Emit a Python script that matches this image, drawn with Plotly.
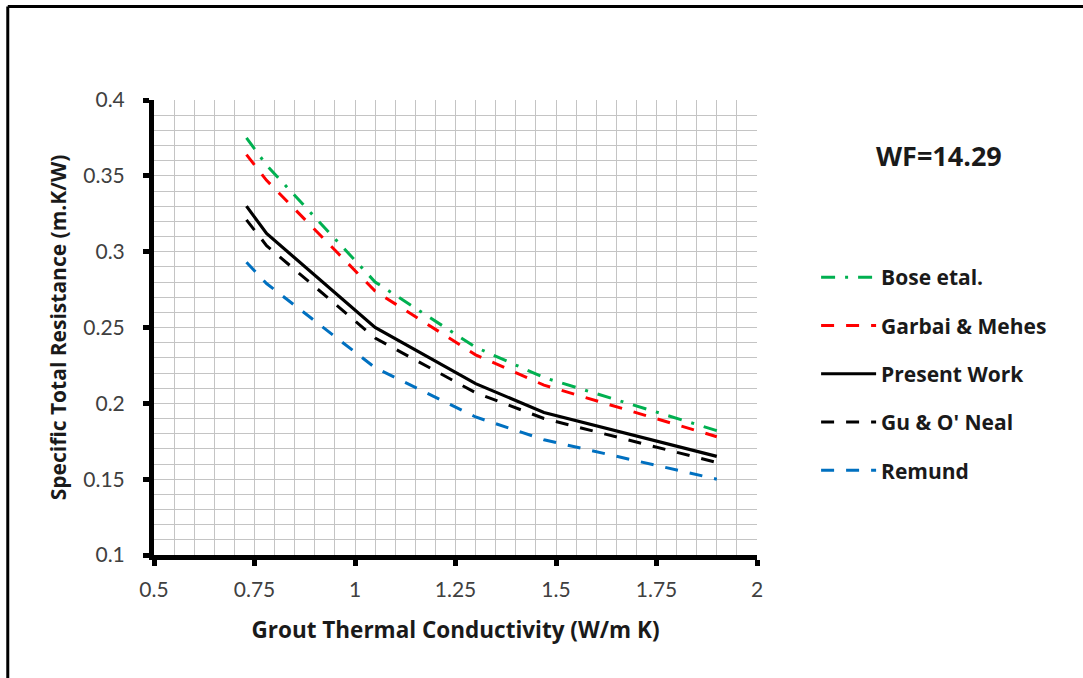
import plotly.graph_objects as go

# Grout thermal conductivity (W/m K)
conductivity = [0.73, 0.78, 1.05, 1.3, 1.47, 1.9]

# Specific total resistance (m.K/W)
bose = [0.375, 0.357, 0.280, 0.237, 0.217, 0.182]
garbai_mehes = [0.364, 0.347, 0.274, 0.232, 0.212, 0.178]
present_work = [0.330, 0.312, 0.250, 0.213, 0.194, 0.165]
gu_oneal = [0.321, 0.304, 0.243, 0.207, 0.190, 0.161]
remund = [0.293, 0.279, 0.2235, 0.191, 0.176, 0.150]

series_names = ["Bose etal.", "Garbai & Mehes", "Present Work", "Gu & O' Neal", "Remund"]
series_values = [bose, garbai_mehes, present_work, gu_oneal, remund]
series_colors = ["#00B050", "#FF0000", "#000000", "#000000", "#0070C0"]
series_dash = ["14px,10px,3px,10px", "13px,12px", "solid", "13px,12px", "13px,12px"]
series_width = [3, 3, 3.2, 3, 3]

x_ticks = [0.5, 0.75, 1, 1.25, 1.5, 1.75, 2]
x_ticklabels = ["0.5", "0.75", "1", "1.25", "1.5", "1.75", "2"]
y_ticks = [0.1, 0.15, 0.2, 0.25, 0.3, 0.35, 0.4]
y_ticklabels = ["0.1", "0.15", "0.2", "0.25", "0.3", "0.35", "0.4"]

fig = go.Figure()
for i, (name, vals) in enumerate(zip(series_names, series_values)):
    fig.add_trace(go.Scatter(
        x=conductivity, y=vals, mode="lines", name=name,
        legendgroup=f"g{i}",
        line=dict(color=series_colors[i], dash=series_dash[i], width=series_width[i]),
    ))

grid_color = "#C4C4C4"
tick_font = dict(family="Lato", size=21, color="#404040")
x_title_font = dict(family="Open Sans", size=22.5, color="#1a1a1a", weight="bold")
y_title_font = dict(family="Open Sans", size=21, color="#1a1a1a", weight="bold")

frame_line = dict(color="black", width=3)

fig.update_layout(
    width=1083, height=678,
    margin=dict(l=154, r=326, t=100, b=123, autoexpand=False),
    paper_bgcolor="white", plot_bgcolor="white",
    showlegend=True,
    legend=dict(
        x=1.098, y=0.655, xanchor="left", yanchor="top",
        font=dict(family="Open Sans", size=21, color="#1a1a1a", weight="bold"),
        tracegroupgap=18, itemwidth=55, bgcolor="rgba(0,0,0,0)",
    ),
    xaxis=dict(
        range=[0.5, 2], tickvals=x_ticks, ticktext=x_ticklabels,
        showgrid=True, gridcolor=grid_color, gridwidth=1.3,
        minor=dict(dtick=0.05, tick0=0.5, showgrid=True, gridcolor=grid_color, gridwidth=1.3),
        showline=True, linecolor="black", linewidth=5,
        ticks="outside", ticklen=6, tickwidth=5, tickcolor="black",
        tickfont=tick_font, ticklabelstandoff=6,
        title=dict(text="Grout Thermal Conductivity (W/m K)", font=x_title_font, standoff=24),
        zeroline=False,
    ),
    yaxis=dict(
        range=[0.1, 0.4], tickvals=y_ticks, ticktext=y_ticklabels,
        showgrid=True, gridcolor=grid_color, gridwidth=1.3,
        minor=dict(dtick=0.01, tick0=0.1, showgrid=True, gridcolor=grid_color, gridwidth=1.3),
        showline=True, linecolor="black", linewidth=5,
        ticks="outside", ticklen=6, tickwidth=5, tickcolor="black",
        tickfont=tick_font, ticklabelstandoff=14,
        title=dict(text="Specific Total Resistance (m.K/W)", font=y_title_font, standoff=12),
        zeroline=False,
    ),
    annotations=[
        dict(text="<b>WF=14.29</b>", xref="paper", yref="paper", x=1.302, y=0.879,
             xanchor="center", yanchor="middle", showarrow=False,
             font=dict(family="Open Sans", size=27, color="#1a1a1a")),
    ],
    shapes=[
        # outer frame: top edge and left edge (right/bottom run past the page)
        dict(type="line", xref="paper", yref="paper",
             x0=-0.2425, x1=1.8, y0=1.2055, y1=1.2055, line=frame_line, layer="below"),
        dict(type="line", xref="paper", yref="paper",
             x0=-0.2425, x1=-0.2425, y0=-0.5, y1=1.2055, line=frame_line, layer="below"),
    ],
)

fig.write_html(
    "out.html", config={"displayModeBar": False},
    post_script=("document.body.style.margin='0';"
                 "document.body.style.overflow='hidden';"
                 "document.documentElement.style.overflow='hidden';"),
)
